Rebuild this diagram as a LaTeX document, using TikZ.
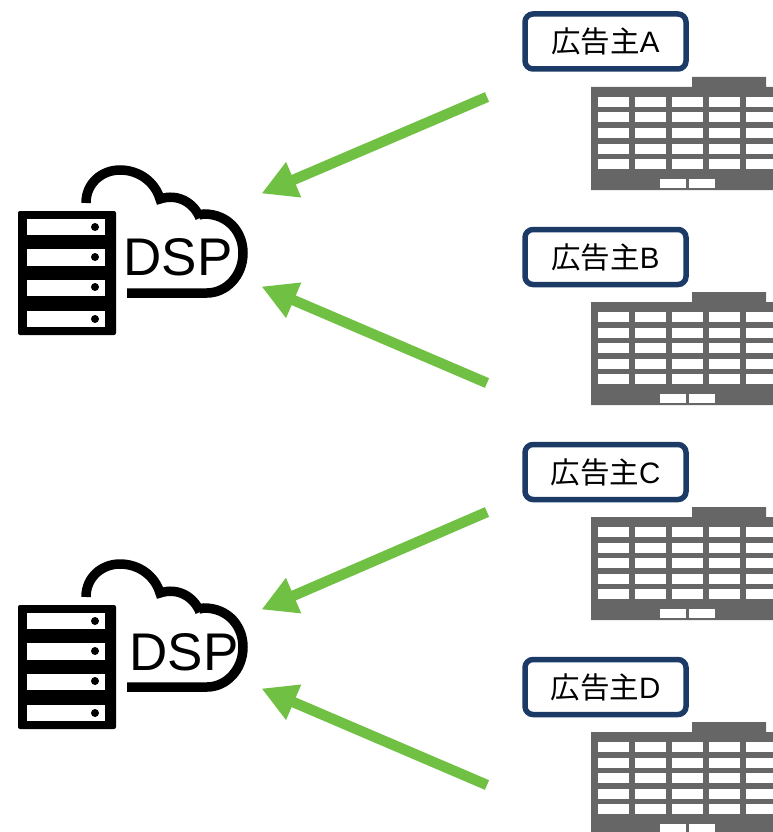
\documentclass[tikz,border=0pt]{standalone}
\usepackage{fontspec}
\setmainfont{Liberation Sans}
\newfontfamily\cjk{Noto Sans CJK JP}
\usetikzlibrary{arrows.meta}
\definecolor{boxblue}{HTML}{1B3A66}
\definecolor{arrowgreen}{HTML}{70C044}
\definecolor{bldgray}{HTML}{666666}
\tikzset{
  adlabel/.style={draw=boxblue,line width=5.5pt,rounded corners=8pt,fill=white,minimum width=161pt,minimum height=55pt,inner sep=0pt,font=\fontsize{29.5}{29.5}\selectfont,text=black},
  flow/.style={draw=arrowgreen,line width=10.5pt,-{Triangle[length=35pt,width=36pt,fill=arrowgreen]}},
  dsplabel/.style={font=\fontsize{53}{53}\selectfont,inner sep=0pt,text=black},
  cloudline/.style={draw=black,line width=9.5pt,line join=miter},
}
\newcommand{\building}[1]{%
  \begin{scope}[yshift=-#1pt]
    \fill[bldgray] (591,87) -- (692,87) -- (692,77) -- (766,77) -- (766,87) -- (773,87) -- (773,190) -- (591,190) -- cycle;
    \foreach \ry in {97,112.5,128,143.5,159}{
      \foreach \cx/\cw in {598/31,635/31,672/30.5,709/31,746/27}{
        \fill[white] (\cx,\ry) rectangle ++(\cw,10);
      }
    }
    \fill[white] (660,178.5) rectangle (685.5,188);
    \fill[white] (689,178.5) rectangle (715,188);
  \end{scope}}
\newcommand{\servercloud}[1]{%
  \begin{scope}[yshift=-#1pt]
    \fill[black,rounded corners=2pt] (18,211) rectangle (116,335);
    \foreach \ry/\ey/\dy in {219/235/227,249/266/257,280/296/287,311/327/319}{
      \fill[white] (27,\ry) rectangle (105,\ey);
      \fill[black] (95,\dy) circle (4pt);
    }
    \draw[cloudline] (86,203) .. controls (86,183) and (102,170) .. (120,170)
      .. controls (139,170) and (155,182) .. (160,199)
      .. controls (178,193) and (194,203) .. (200,218);
    \draw[cloudline] (199,215) -- (204,214) .. controls (228,214) and (243,232) .. (243,253)
      .. controls (243,276) and (226,293) .. (207,293) -- (127,293);
  \end{scope}}
\begin{document}
\begin{tikzpicture}[x=1pt,y=-1pt]
\useasboundingbox (0,0) rectangle (773,832);
\begin{scope}
\clip (0,0) rectangle (773,832);
\building{0}
\building{215}
\building{430}
\building{645}
\end{scope}
\servercloud{0}
\servercloud{394}
\node[dsplabel] (dsp1) at (178,257) {DSP};
\node[dsplabel] (dsp2) at (184,652) {DSP};
\node[adlabel] (a) at (605.5,41.5) {{\cjk 広告主}A};
\node[adlabel] (b) at (605.5,257) {{\cjk 広告主}B};
\node[adlabel] (c) at (605.5,472) {{\cjk 広告主}C};
\node[adlabel] (d) at (605.5,687) {{\cjk 広告主}D};
\coordinate (as) at (487,97);
\coordinate (at) at (261.5,193.5);
\coordinate (bs) at (487,383);
\coordinate (bt) at (261.5,286.5);
\coordinate (cs) at (487,512);
\coordinate (ct) at (261.5,609.5);
\coordinate (ds) at (487,785);
\coordinate (dt) at (261.5,688.5);
\draw[flow] (as) -- (at);
\draw[flow] (bs) -- (bt);
\draw[flow] (cs) -- (ct);
\draw[flow] (ds) -- (dt);
\end{tikzpicture}
\end{document}
